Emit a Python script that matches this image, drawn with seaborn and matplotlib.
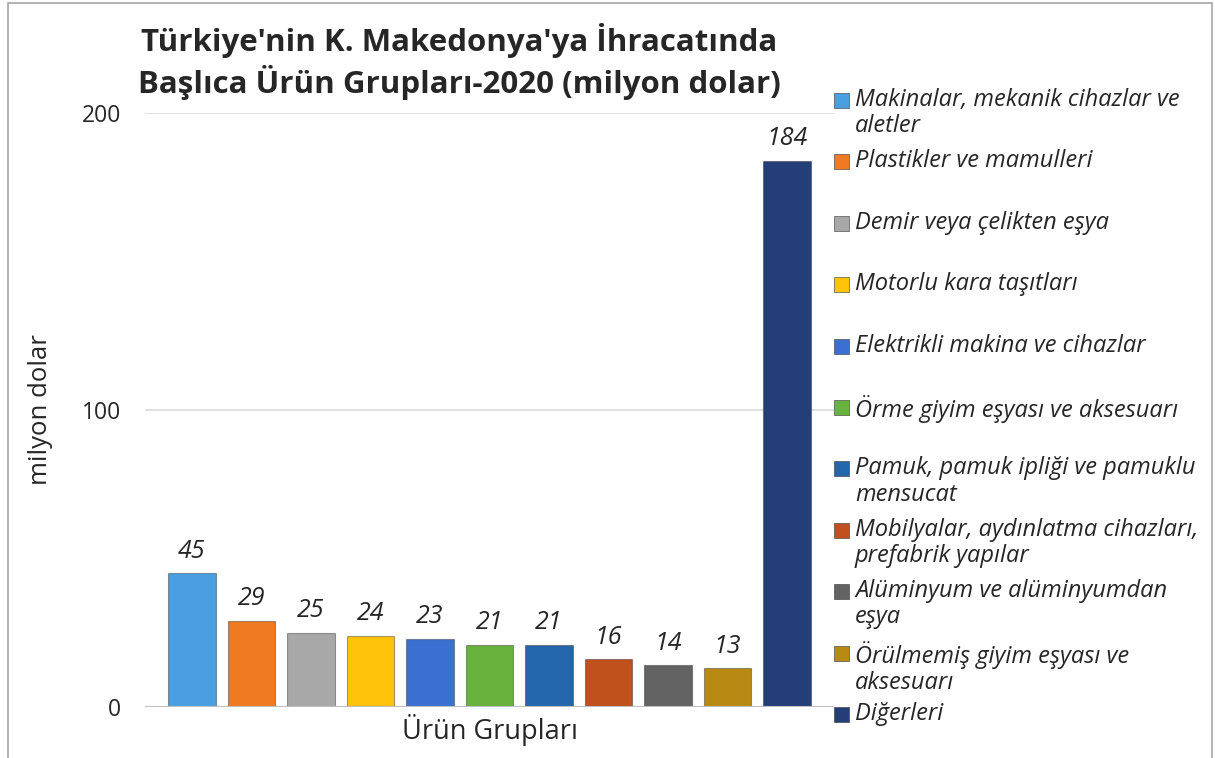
import numpy as np
import pandas as pd
import seaborn as sns
import matplotlib.pyplot as plt
from matplotlib.patches import Rectangle

# data (milyon dolar)
groups = [
    "Makinalar, mekanik cihazlar ve\naletler",
    "Plastikler ve mamulleri",
    "Demir veya çelikten eşya",
    "Motorlu kara taşıtları",
    "Elektrikli makina ve cihazlar",
    "Örme giyim eşyası ve aksesuarı",
    "Pamuk, pamuk ipliği ve pamuklu\nmensucat",
    "Mobilyalar, aydınlatma cihazları,\nprefabrik yapılar",
    "Alüminyum ve alüminyumdan\neşya",
    "Örülmemiş giyim eşyası ve\naksesuarı",
    "Diğerleri",
]
values = [45, 29, 25, 24, 23, 21, 21, 16, 14, 13, 184]
colors = ["#4a9fe0", "#f07a22", "#a8a8a8", "#ffc30a", "#3b70d2", "#68b23e",
          "#2466ab", "#c0501c", "#636363", "#b88a14", "#233e78"]

title = "Türkiye'nin K. Makedonya'ya İhracatında\nBaşlıca Ürün Grupları-2020 (milyon dolar)"

df = pd.DataFrame({"group": groups, "value": values})

sns.set_theme(style="white")
plt.rcParams['font.family'] = ['Open Sans', 'DejaVu Sans']

fig = plt.figure(figsize=(12.15, 7.58), dpi=100)
ax = fig.add_axes([145 / 1215, 1 - 707 / 758, (834 - 145) / 1215, (707 - 113) / 758])

sns.barplot(data=df, x="group", y="value", hue="group", palette=colors, saturation=1,
            legend=False, width=0.8, ax=ax, edgecolor="#22222266", linewidth=0.8)

for c in ax.containers:
    ax.bar_label(c, fmt="%g", padding=7, fontsize=18, style="italic")

ax.set_xlim(-0.79, 10.79)
ax.set_ylim(0, 200)
ax.set_yticks([0, 100, 200])
ax.yaxis.grid(True, color="#d9d9d9", linewidth=1.2)
ax.set_axisbelow(True)
ax.set_xticks([])
ax.tick_params(axis="y", length=0, pad=17, labelsize=16.5)
for s in ax.spines.values():
    s.set_visible(False)
ax.axhline(0, color="#bfbfbf", linewidth=1.5)
ax.set_xlabel("Ürün Grupları", fontsize=19.5, labelpad=5)
ax.set_ylabel("milyon dolar", fontsize=18.5, labelpad=21)

fig.text(459 / 1215, 1 - 61 / 758, title, ha="center", va="center",
         fontsize=22.5, fontweight="bold", linespacing=1.25)

# legend drawn on the right, one entry every 62 px
for i, (name, col) in enumerate(zip(groups, colors)):
    ytop = 100 + i * 61.4
    fig.patches.append(Rectangle((834 / 1215, 1 - (ytop + 8) / 758), 15 / 1215, 15 / 758,
                                 transform=fig.transFigure, facecolor=col,
                                 edgecolor="#333333", linewidth=0.4))
    fig.text(855 / 1215, 1 - (ytop - 12) / 758, name, ha="left", va="top",
             fontsize=17, style="italic", linespacing=1.12)

# outer border of the chart
fig.patches.append(Rectangle((8 / 1215, -0.01), 1204 / 1215, 1 - 3 / 758 + 0.01,
                             transform=fig.transFigure, fill=False,
                             edgecolor="#a6a6a6", linewidth=1.2))

fig.savefig("out.png", dpi=100)
